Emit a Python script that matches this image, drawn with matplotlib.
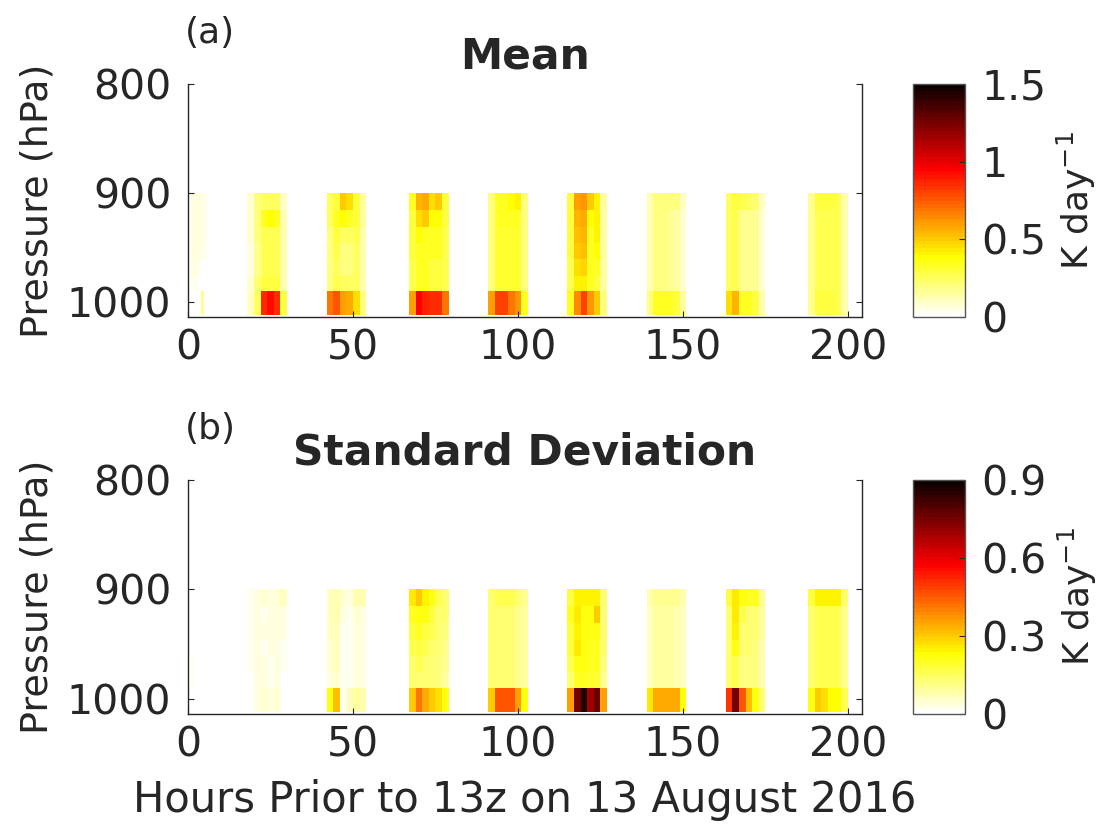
import numpy as np
import matplotlib
matplotlib.use('Agg')
import matplotlib.pyplot as plt

plt.rcParams['font.family'] = ['DejaVu Sans']
ink = '#262626'

# pressure cell edges (hPa), hourly grid for the time axis
p_edges = [900, 915.5, 931, 946, 961, 976, 990.5, 1012]
n_hours = 204

# (a) mean heating rate, K/day
# short block near the start, hourly columns
mean_first_start = 1
mean_first = [
    [0.05, 0.05, 0.05, 0.05, 0.04],
    [0.05, 0.05, 0.05, 0.05, 0.04],
    [0.05, 0.05, 0.05, 0.05, 0.04],
    [0.05, 0.05, 0.05, 0.04, 0.03],
    [0.05, 0.05, 0.04, 0.00, 0.00],
    [0.04, 0.04, 0.00, 0.00, 0.00],
    [0.00, 0.00, 0.00, 0.18, 0.00],
]
# daily blocks, 2-hour columns
mean_start = [18, 42, 67, 91, 115, 139, 163, 188]
mean_blocks = [
    [[0.08, 0.20, 0.25, 0.25, 0.25, 0.10],
     [0.08, 0.20, 0.35, 0.38, 0.35, 0.12],
     [0.08, 0.20, 0.28, 0.28, 0.28, 0.12],
     [0.06, 0.18, 0.28, 0.28, 0.28, 0.12],
     [0.06, 0.18, 0.28, 0.28, 0.28, 0.12],
     [0.08, 0.22, 0.30, 0.30, 0.30, 0.12],
     [0.10, 0.25, 0.85, 0.92, 0.85, 0.30]],
    [[0.25, 0.30, 0.50, 0.45, 0.30, 0.15],
     [0.25, 0.35, 0.38, 0.35, 0.30, 0.15],
     [0.20, 0.30, 0.25, 0.25, 0.28, 0.12],
     [0.20, 0.28, 0.20, 0.20, 0.25, 0.12],
     [0.20, 0.25, 0.20, 0.20, 0.25, 0.12],
     [0.20, 0.28, 0.25, 0.25, 0.25, 0.12],
     [0.70, 0.75, 0.60, 0.58, 0.45, 0.20]],
    [[0.35, 0.55, 0.58, 0.45, 0.50, 0.30],
     [0.30, 0.45, 0.50, 0.38, 0.38, 0.30],
     [0.30, 0.38, 0.35, 0.33, 0.33, 0.28],
     [0.30, 0.33, 0.33, 0.33, 0.33, 0.28],
     [0.28, 0.33, 0.33, 0.30, 0.30, 0.28],
     [0.28, 0.33, 0.33, 0.30, 0.30, 0.28],
     [0.60, 0.95, 0.88, 0.85, 0.85, 0.70]],
    [[0.20, 0.33, 0.35, 0.38, 0.40, 0.20],
     [0.20, 0.33, 0.33, 0.35, 0.35, 0.20],
     [0.20, 0.32, 0.32, 0.32, 0.32, 0.20],
     [0.20, 0.32, 0.32, 0.32, 0.32, 0.20],
     [0.20, 0.32, 0.32, 0.32, 0.32, 0.20],
     [0.20, 0.32, 0.32, 0.32, 0.32, 0.20],
     [0.60, 0.80, 0.82, 0.70, 0.62, 0.35]],
    [[0.30, 0.60, 0.62, 0.50, 0.40, 0.15],
     [0.30, 0.55, 0.58, 0.38, 0.42, 0.15],
     [0.30, 0.52, 0.55, 0.35, 0.40, 0.15],
     [0.30, 0.50, 0.52, 0.35, 0.38, 0.15],
     [0.28, 0.45, 0.48, 0.33, 0.35, 0.15],
     [0.28, 0.40, 0.42, 0.33, 0.30, 0.15],
     [0.35, 0.65, 0.80, 0.62, 0.50, 0.20]],
    [[0.12, 0.20, 0.20, 0.20, 0.20, 0.10],
     [0.12, 0.20, 0.20, 0.18, 0.16, 0.08],
     [0.12, 0.20, 0.20, 0.18, 0.16, 0.08],
     [0.12, 0.20, 0.20, 0.18, 0.16, 0.08],
     [0.12, 0.20, 0.20, 0.18, 0.16, 0.08],
     [0.12, 0.20, 0.20, 0.18, 0.16, 0.08],
     [0.20, 0.33, 0.33, 0.33, 0.30, 0.15]],
    [[0.25, 0.30, 0.28, 0.25, 0.22, 0.10],
     [0.25, 0.28, 0.18, 0.18, 0.18, 0.08],
     [0.25, 0.28, 0.18, 0.18, 0.18, 0.08],
     [0.25, 0.28, 0.18, 0.18, 0.18, 0.08],
     [0.25, 0.28, 0.18, 0.18, 0.18, 0.08],
     [0.25, 0.28, 0.18, 0.18, 0.18, 0.08],
     [0.45, 0.55, 0.35, 0.35, 0.30, 0.12]],
    [[0.18, 0.30, 0.30, 0.30, 0.28, 0.12],
     [0.18, 0.28, 0.28, 0.28, 0.26, 0.12],
     [0.18, 0.28, 0.28, 0.28, 0.26, 0.12],
     [0.18, 0.28, 0.28, 0.28, 0.26, 0.12],
     [0.18, 0.28, 0.28, 0.28, 0.26, 0.12],
     [0.18, 0.28, 0.28, 0.28, 0.26, 0.12],
     [0.18, 0.30, 0.30, 0.30, 0.28, 0.12]],
]

# (b) standard deviation, K/day
std_first_start = 1
std_first = [
    [0.00, 0.00, 0.00, 0.00, 0.00],
    [0.00, 0.00, 0.00, 0.00, 0.00],
    [0.00, 0.00, 0.00, 0.00, 0.00],
    [0.00, 0.00, 0.00, 0.00, 0.00],
    [0.02, 0.00, 0.00, 0.00, 0.00],
    [0.02, 0.00, 0.00, 0.00, 0.00],
    [0.00, 0.00, 0.00, 0.00, 0.00],
]
std_start = [18, 42, 67, 91, 115, 139, 163, 188]
std_blocks = [
    [[0.02, 0.04, 0.05, 0.04, 0.05, 0.06],
     [0.02, 0.04, 0.02, 0.03, 0.04, 0.04],
     [0.02, 0.03, 0.03, 0.03, 0.04, 0.03],
     [0.02, 0.03, 0.02, 0.03, 0.03, 0.02],
     [0.02, 0.03, 0.03, 0.02, 0.03, 0.02],
     [0.00, 0.03, 0.03, 0.02, 0.03, 0.00],
     [0.00, 0.04, 0.05, 0.04, 0.05, 0.00]],
    [[0.06, 0.08, 0.05, 0.04, 0.08, 0.08],
     [0.06, 0.08, 0.03, 0.02, 0.05, 0.04],
     [0.06, 0.07, 0.02, 0.02, 0.04, 0.04],
     [0.05, 0.06, 0.02, 0.02, 0.04, 0.04],
     [0.05, 0.06, 0.02, 0.02, 0.04, 0.04],
     [0.04, 0.05, 0.02, 0.02, 0.04, 0.03],
     [0.22, 0.32, 0.02, 0.06, 0.09, 0.08]],
    [[0.26, 0.30, 0.24, 0.22, 0.16, 0.13],
     [0.20, 0.22, 0.22, 0.18, 0.14, 0.13],
     [0.18, 0.20, 0.18, 0.16, 0.14, 0.12],
     [0.16, 0.18, 0.16, 0.14, 0.13, 0.10],
     [0.14, 0.16, 0.14, 0.13, 0.12, 0.10],
     [0.13, 0.14, 0.13, 0.13, 0.12, 0.09],
     [0.30, 0.42, 0.34, 0.30, 0.28, 0.22]],
    [[0.14, 0.16, 0.16, 0.16, 0.14, 0.11],
     [0.13, 0.14, 0.14, 0.13, 0.11, 0.09],
     [0.13, 0.14, 0.14, 0.13, 0.11, 0.09],
     [0.13, 0.14, 0.14, 0.13, 0.11, 0.09],
     [0.13, 0.14, 0.14, 0.13, 0.11, 0.09],
     [0.13, 0.14, 0.14, 0.13, 0.11, 0.09],
     [0.30, 0.45, 0.46, 0.45, 0.36, 0.22]],
    [[0.18, 0.24, 0.24, 0.24, 0.24, 0.14],
     [0.20, 0.26, 0.22, 0.22, 0.30, 0.14],
     [0.18, 0.24, 0.22, 0.22, 0.22, 0.13],
     [0.18, 0.26, 0.22, 0.20, 0.20, 0.13],
     [0.16, 0.22, 0.22, 0.20, 0.20, 0.12],
     [0.14, 0.20, 0.20, 0.19, 0.19, 0.11],
     [0.36, 0.75, 0.86, 0.70, 0.76, 0.36]],
    [[0.08, 0.11, 0.11, 0.11, 0.11, 0.08],
     [0.06, 0.09, 0.09, 0.09, 0.08, 0.06],
     [0.06, 0.09, 0.09, 0.09, 0.08, 0.06],
     [0.06, 0.09, 0.09, 0.09, 0.08, 0.06],
     [0.06, 0.09, 0.09, 0.09, 0.08, 0.06],
     [0.06, 0.09, 0.09, 0.09, 0.08, 0.06],
     [0.26, 0.34, 0.34, 0.34, 0.34, 0.22]],
    [[0.18, 0.26, 0.22, 0.20, 0.20, 0.11],
     [0.14, 0.26, 0.16, 0.14, 0.14, 0.09],
     [0.14, 0.24, 0.13, 0.13, 0.13, 0.09],
     [0.13, 0.22, 0.13, 0.13, 0.12, 0.08],
     [0.13, 0.16, 0.12, 0.12, 0.12, 0.08],
     [0.13, 0.16, 0.12, 0.12, 0.12, 0.08],
     [0.50, 0.75, 0.45, 0.32, 0.22, 0.14]],
    [[0.18, 0.24, 0.24, 0.24, 0.24, 0.14],
     [0.13, 0.16, 0.16, 0.16, 0.16, 0.11],
     [0.13, 0.16, 0.16, 0.16, 0.16, 0.11],
     [0.13, 0.16, 0.16, 0.16, 0.16, 0.11],
     [0.13, 0.16, 0.16, 0.16, 0.16, 0.11],
     [0.13, 0.16, 0.16, 0.16, 0.16, 0.11],
     [0.22, 0.30, 0.28, 0.23, 0.23, 0.16]],
]

x_ticks = [0, 50, 100, 150, 200]
p_ticks = [800, 900, 1000]
mean_cticks = [0, 0.5, 1, 1.5]
std_cticks = [0, 0.3, 0.6, 0.9]
mean_clabels = ['0', '0.5', '1', '1.5']
std_clabels = ['0', '0.3', '0.6', '0.9']


def build(first_start, first, starts, blocks):
    field = np.zeros((len(p_edges) - 1, n_hours))
    first = np.array(first)
    field[:, first_start:first_start + first.shape[1]] = first
    for s, b in zip(starts, blocks):
        b = np.repeat(np.array(b), 2, axis=1)
        field[:, s:s + b.shape[1]] = b
    return field


cmap = plt.get_cmap('hot_r', 64)
hour_edges = np.arange(n_hours + 1)


def panel(ax, cax, field, vmax, cticks, clabels, title, tag):
    mesh = ax.pcolormesh(hour_edges, p_edges, field, cmap=cmap, vmin=0,
                         vmax=vmax, shading='flat', antialiased=False)
    ax.set_xlim(0, 204.3)
    ax.set_ylim(1014, 800)
    ax.set_xticks(x_ticks)
    ax.set_yticks(p_ticks)
    ax.tick_params(direction='in', length=4, width=0.8, labelsize=29.5,
                   colors=ink, right=True, top=False)
    ax.tick_params(axis='y', pad=12)
    ax.tick_params(axis='x', pad=8)
    for side in ['left', 'bottom', 'right']:
        ax.spines[side].set_color(ink)
        ax.spines[side].set_linewidth(1.0)
    ax.spines['top'].set_visible(False)
    ax.set_title(title, fontsize=30.5, fontweight='bold', color=ink, pad=11)
    ax.set_ylabel('Pressure (hPa)', fontsize=27.5, color=ink, labelpad=8)
    ax.text(-0.005, 1.175, tag, transform=ax.transAxes, fontsize=26, color=ink)

    cb = plt.colorbar(mesh, cax=cax, ticks=cticks)
    cb.ax.set_yticklabels(clabels)
    cb.ax.tick_params(direction='in', length=4, width=0.8, labelsize=29.5,
                      colors=ink, pad=12)
    cb.outline.set_edgecolor('#555555')
    cb.outline.set_linewidth(1.0)
    cb.set_label('K day$^{\\mathregular{-1}}$', fontsize=26, color=ink,
                 labelpad=6)
    return mesh


fig = plt.figure(figsize=(11.09, 8.30), dpi=100)
ax1 = fig.add_axes([0.1695, 0.618, 0.6078, 0.2807])
cax1 = fig.add_axes([0.8233, 0.618, 0.0469, 0.2807])
ax2 = fig.add_axes([0.1695, 0.1398, 0.6078, 0.2819])
cax2 = fig.add_axes([0.8233, 0.1398, 0.0469, 0.2819])

panel(ax1, cax1, build(mean_first_start, mean_first, mean_start, mean_blocks),
      1.5, mean_cticks, mean_clabels, 'Mean', '(a)')
panel(ax2, cax2, build(std_first_start, std_first, std_start, std_blocks),
      0.9, std_cticks, std_clabels, 'Standard Deviation', '(b)')
ax2.set_xlabel('Hours Prior to 13z on 13 August 2016', fontsize=30,
               color=ink, labelpad=10)

fig.savefig('out.png', dpi=100)
